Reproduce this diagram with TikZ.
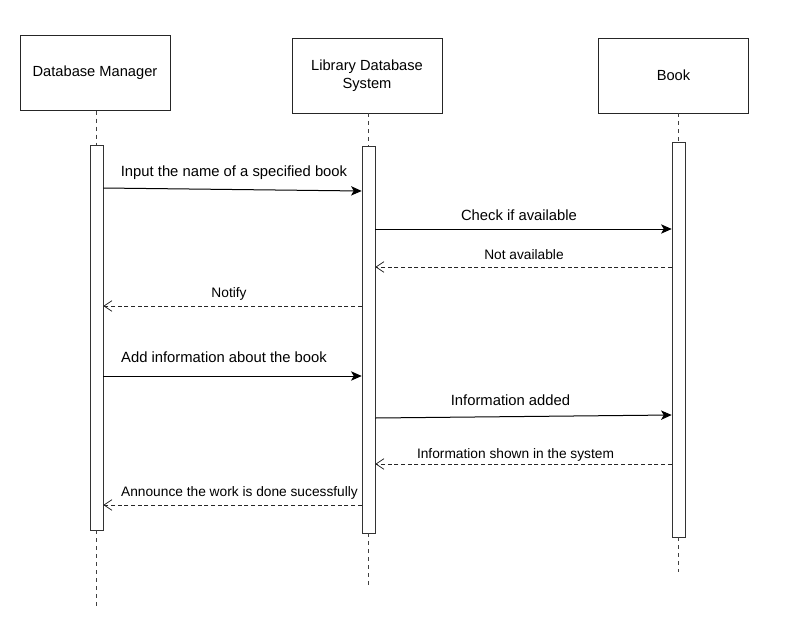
\documentclass[tikz,border=0pt]{standalone}
\usepackage{fontspec}
\setmainfont{Liberation Sans}
\usetikzlibrary{arrows.meta,positioning}

\tikzset{
  actor/.style={draw=black!85, fill=white, minimum width=112.5pt, minimum height=56pt,
                align=center, inner sep=0pt, font=\fontsize{11}{13.5}\selectfont},
  activation/.style={draw=black!80, fill=white, minimum width=9.75pt, inner sep=0pt},
  lifeline/.style={draw=black!75, dash pattern=on 3pt off 3pt, line width=0.75pt},
  call/.style={-{Stealth[length=8pt,width=7pt,inset=2pt]}, line width=0.75pt},
  reply/.style={-{Straight Barb[length=6pt,width=8pt]}, draw=black!85,
                dash pattern=on 3pt off 2pt, line width=0.6pt},
  msglabel/.style={inner sep=0pt, font=\fontsize{11.1}{13}\selectfont},
  replylabel/.style={inner sep=0pt, font=\fontsize{10.3}{12}\selectfont}
}

\begin{document}
\begin{tikzpicture}[x=0.75pt,y=-0.75pt]
    \useasboundingbox (0,0) rectangle (805,621);

    % actors
    \node [actor] (dbman) at (95,73) {Database Manager};
    \node [actor] (libsys) at (367,75.5) {Library Database\\System};
    \node [actor] (book) at (673.5,75.5) {Book};

    % activation bars
    \node [activation, minimum height=288.75pt] (dbbar) at (96.5,337.5) {};
    \node [activation, minimum height=290.25pt] (libbar) at (368.5,339.5) {};
    \node [activation, minimum height=296.25pt] (bookbar) at (678.5,339.5) {};

    % lifeline ends
    \coordinate (dbend) at (96.5,610);
    \coordinate (libend) at (368.5,588);
    \coordinate (bookend) at (678.5,572);

    \draw [lifeline] (dbman.south -| dbbar) -- (dbbar.north);
    \draw [lifeline] (dbbar.south) -- (dbend);
    \draw [lifeline] (libsys.south -| libbar) -- (libbar.north);
    \draw [lifeline] (libbar.south) -- (libend);
    \draw [lifeline] (book.south -| bookbar) -- (bookbar.north);
    \draw [lifeline] (bookbar.south) -- (bookend);

    % message levels
    \coordinate (m1a) at (0,188);
    \coordinate (m1b) at (0,191);
    \coordinate (m2) at (0,229);
    \coordinate (m3) at (0,267);
    \coordinate (m4) at (0,306);
    \coordinate (m5) at (0,376);
    \coordinate (m6a) at (0,418);
    \coordinate (m6b) at (0,415);
    \coordinate (m7) at (0,464);
    \coordinate (m8) at (0,505);

    % messages
    \draw [call] (dbbar.east |- m1a) -- (libbar.west |- m1b);
    \draw [call] (libbar.east |- m2) -- (bookbar.west |- m2);
    \draw [reply] (bookbar.west |- m3) -- (libbar.east |- m3);
    \draw [reply] (libbar.west |- m4) -- (dbbar.east |- m4);
    \draw [call] (dbbar.east |- m5) -- (libbar.west |- m5);
    \draw [call] (libbar.east |- m6a) -- (bookbar.west |- m6b);
    \draw [reply] (bookbar.west |- m7) -- (libbar.east |- m7);
    \draw [reply] (libbar.west |- m8) -- (dbbar.east |- m8);

    % labels
    \node [msglabel] (l1) at (234,173) {Input the name of a specified book};
    \node [msglabel] (l2) at (519,215) {Check if available};
    \node [replylabel] (l3) at (524,255) {Not available};
    \node [replylabel] (l4) at (229,294) {Notify};
    \node [msglabel] (l5) at (224,357) {Add information about the book};
    \node [msglabel] (l6) at (510.5,400) {Information added};
    \node [replylabel] (l7) at (515.5,455) {Information shown in the system};
    \node [replylabel] (l8) at (239.5,493) {Announce the work is done sucessfully};
\end{tikzpicture}
\end{document}
